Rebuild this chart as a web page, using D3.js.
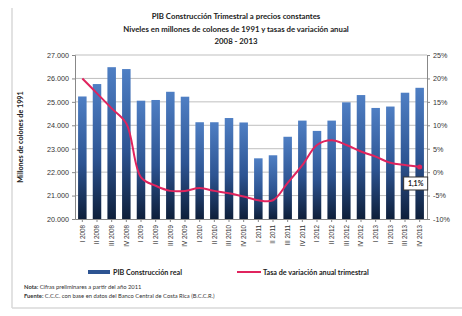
<!DOCTYPE html>
<html>
<head>
<meta charset="utf-8">
<script src="https://cdn.jsdelivr.net/npm/d3@7"></script>
<style>
  body { margin: 0; background: #fff; }
  svg { font-family: Lato, "Open Sans", sans-serif; }
</style>
</head>
<body>
<svg width="462" height="316"></svg>
<script>
const quarters = ["I 2008","II 2008","III 2008","IV 2008","I 2009","II 2009","III 2009","IV 2009",
  "I 2010","II 2010","III 2010","IV 2010","I 2011","II 2011","III 2011","IV 2011",
  "I 2012","II 2012","III 2012","IV 2012","I 2013","II 2013","III 2013","IV 2013"];
const pibReal = [25230, 25760, 26480, 26400, 25050, 25080, 25430, 25220,
  24130, 24130, 24310, 24120, 22590, 22720, 23510, 24200,
  23760, 24200, 24980, 25290, 24740, 24800, 25390, 25600];
const tasa = [20.0, 16.8, 13.6, 10.4, -1.1, -2.9, -4.0, -4.0,
  -3.4, -4.0, -4.5, -5.2, -6.0, -6.0, -2.3, 1.5,
  5.8, 6.8, 5.8, 4.4, 3.3, 2.0, 1.5, 1.1];
const leftTicks = [20000, 21000, 22000, 23000, 24000, 25000, 26000, 27000];
const rightTicks = [-10, -5, 0, 5, 10, 15, 20, 25];

const svg = d3.select("svg");
const m = { left: 75, right: 427, top: 55, bottom: 219 };

// frame
svg.append("line").attr("x1", 12).attr("x2", 12).attr("y1", 8).attr("y2", 308)
  .attr("stroke", "#d9d9d9").attr("stroke-width", 1.5);
svg.append("line").attr("x1", 12).attr("x2", 462).attr("y1", 308).attr("y2", 308)
  .attr("stroke", "#d9d9d9").attr("stroke-width", 1.5);

// titles
const titles = ["PIB Construcción Trimestral a precios constantes",
  "Niveles en millones de colones de 1991 y tasas de variación anual",
  "2008 - 2013"];
svg.selectAll(".title").data(titles).enter().append("text")
  .attr("x", 236).attr("y", (d, i) => 19 + i * 12.5)
  .attr("text-anchor", "middle").attr("font-size", 7.8).attr("font-weight", "bold")
  .attr("fill", "#222").text(d => d);

const x = d3.scaleBand().domain(quarters).range([m.left, m.right]).paddingInner(0.42).paddingOuter(0.21);
const y = d3.scaleLinear().domain([20000, 27000]).range([m.bottom, m.top]);
const y2 = d3.scaleLinear().domain([-10, 25]).range([m.bottom, m.top]);

// gridlines
svg.append("g").selectAll("line").data(leftTicks.slice(1)).enter().append("line")
  .attr("x1", m.left).attr("x2", m.right)
  .attr("y1", d => y(d)).attr("y2", d => y(d))
  .attr("stroke", "#bfbfbf").attr("stroke-width", 1);

// bars gradient
const grad = svg.append("defs").append("linearGradient").attr("id", "barGrad")
  .attr("x1", 0).attr("x2", 0).attr("y1", 0).attr("y2", 1);
grad.append("stop").attr("offset", "0%").attr("stop-color", "#4f7fc4");
grad.append("stop").attr("offset", "55%").attr("stop-color", "#2d5492");
grad.append("stop").attr("offset", "100%").attr("stop-color", "#0e1f3a");

svg.append("g").selectAll("rect").data(pibReal).enter().append("rect")
  .attr("x", (d, i) => x(quarters[i]))
  .attr("width", x.bandwidth())
  .attr("y", d => y(d))
  .attr("height", d => m.bottom - y(d))
  .attr("fill", "url(#barGrad)");

// axes
const yAxis = d3.axisLeft(y).tickValues(leftTicks).tickSize(3)
  .tickFormat(d => d3.format(",")(d).replace(/,/g, "."));
const gL = svg.append("g").attr("transform", `translate(${m.left},0)`).call(yAxis);
gL.select(".domain").attr("stroke", "#888");
gL.selectAll(".tick line").attr("stroke", "#888");
gL.selectAll("text").attr("font-size", 7.2).attr("fill", "#333");

const yAxisR = d3.axisRight(y2).tickValues(rightTicks).tickSize(3).tickFormat(d => d + "%");
const gR = svg.append("g").attr("transform", `translate(${m.right},0)`).call(yAxisR);
gR.select(".domain").attr("stroke", "#888");
gR.selectAll(".tick line").attr("stroke", "#888");
gR.selectAll("text").attr("font-size", 7.2).attr("fill", "#333");

const xAxis = d3.axisBottom(x).tickSize(3).tickSizeOuter(0);
const gX = svg.append("g").attr("transform", `translate(0,${m.bottom})`).call(xAxis);
gX.select(".domain").attr("stroke", "#888");
gX.selectAll(".tick line").attr("stroke", "#888");
gX.selectAll("text").attr("font-size", 6.3).attr("fill", "#333")
  .attr("transform", "rotate(-90)")
  .attr("text-anchor", "end").attr("dy", "0.35em").attr("x", -6).attr("y", 0);

// left axis title
svg.append("text").attr("transform", `translate(23,${(m.top + m.bottom) / 2}) rotate(-90)`)
  .attr("text-anchor", "middle").attr("font-size", 7.2).attr("font-weight", "bold")
  .attr("fill", "#222").text("Millones de colones de 1991");

// rate line
const line = d3.line()
  .x((d, i) => x(quarters[i]) + x.bandwidth() / 2)
  .y(d => y2(d))
  .curve(d3.curveCatmullRom.alpha(0.5));
svg.append("path").datum(tasa).attr("d", line)
  .attr("fill", "none").attr("stroke", "#e0245e").attr("stroke-width", 2);

const lastI = tasa.length - 1;
const lx = x(quarters[lastI]) + x.bandwidth() / 2;
svg.append("circle").attr("cx", lx).attr("cy", y2(tasa[lastI])).attr("r", 2.5).attr("fill", "#e0245e");
svg.append("rect").attr("x", lx - 16).attr("y", y2(tasa[lastI]) + 10).attr("width", 24).attr("height", 13)
  .attr("fill", "#fff").attr("stroke", "#333").attr("stroke-width", 1);
svg.append("text").attr("x", lx - 4).attr("y", y2(tasa[lastI]) + 19.5)
  .attr("text-anchor", "middle").attr("font-size", 7).attr("font-weight", "bold")
  .attr("fill", "#222").text(d3.format(".1f")(tasa[lastI]).replace(".", ",") + "%");

// legend
svg.append("rect").attr("x", 88).attr("y", 270).attr("width", 22).attr("height", 4).attr("fill", "#2d5492");
svg.append("text").attr("x", 113).attr("y", 274.5).attr("font-size", 7.2).attr("font-weight", "bold")
  .attr("fill", "#222").text("PIB Construcción real");
svg.append("line").attr("x1", 237).attr("x2", 261).attr("y1", 272).attr("y2", 272)
  .attr("stroke", "#e0245e").attr("stroke-width", 2);
svg.append("text").attr("x", 263).attr("y", 274.5).attr("font-size", 7.2).attr("font-weight", "bold")
  .attr("fill", "#222").text("Tasa de variación anual trimestral");

// notes
const notes = svg.append("g").attr("font-size", 5.8).attr("fill", "#333");
const n1 = notes.append("text").attr("x", 24).attr("y", 289);
n1.append("tspan").attr("font-weight", "bold").text("Nota: ");
n1.append("tspan").text("Cifras preliminares a partir del año 2011");
const n2 = notes.append("text").attr("x", 24).attr("y", 298);
n2.append("tspan").attr("font-weight", "bold").text("Fuente: ");
n2.append("tspan").text("C.C.C. con base en datos del Banco Central de Costa Rica (B.C.C.R.)");
</script>
</body>
</html>
